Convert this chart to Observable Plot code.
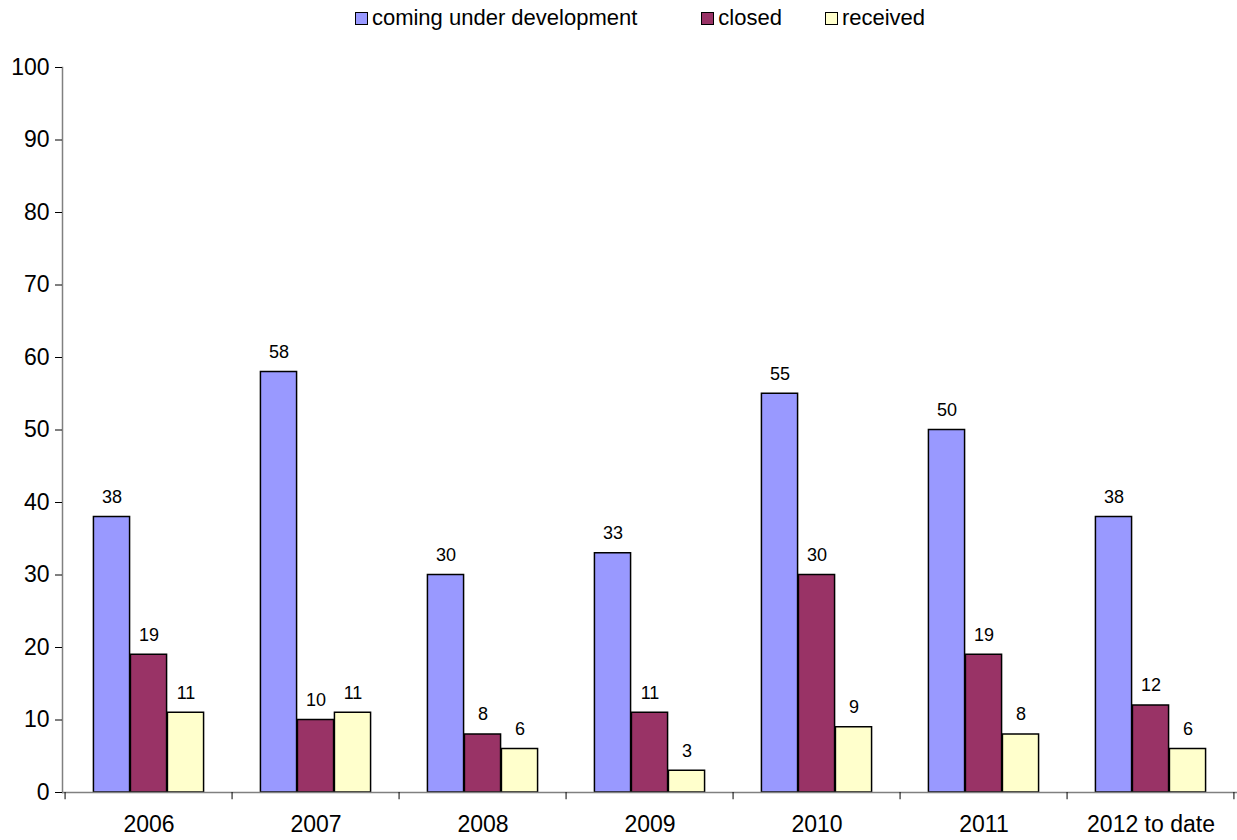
<!DOCTYPE html>
<html>
<head>
<meta charset="utf-8">
<script src="https://cdn.jsdelivr.net/npm/d3@7"></script>
<script src="https://cdn.jsdelivr.net/npm/@observablehq/plot@0.6"></script>
<style>
  html, body { margin: 0; padding: 0; background: #fff; }
  body { width: 1237px; height: 840px; overflow: hidden; font-family: "Liberation Sans", Arial, sans-serif; }
  #legend { height: 36px; display: flex; justify-content: center; align-items: center; font-size: 22px; color: #000; padding-left: 43px; box-sizing: border-box; }
  .item { display: flex; align-items: center; }
  .sw { width: 11px; height: 11px; border: 1px solid #000; margin-right: 4px; }
  #chart svg { display: block; }
</style>
</head>
<body>
<div id="legend"></div>
<div id="chart"></div>
<script>
const categories = ["2006", "2007", "2008", "2009", "2010", "2011", "2012 to date"];
const seriesNames = ["coming under development", "closed", "received"];
const seriesColors = ["#9999FF", "#993366", "#FFFFCC"];
const comingUnderDevelopment = [38, 58, 30, 33, 55, 50, 38];
const closed = [19, 10, 8, 11, 30, 19, 12];
const received = [11, 11, 6, 3, 9, 8, 6];
const yTicks = [0, 10, 20, 30, 40, 50, 60, 70, 80, 90, 100];

const seriesValues = [comingUnderDevelopment, closed, received];

// legend
const legend = document.getElementById("legend");
const legendGaps = [64, 43, 0];
seriesNames.forEach((n, i) => {
  const it = document.createElement("div");
  it.className = "item";
  it.style.marginRight = legendGaps[i] + "px";
  const sw = document.createElement("span");
  sw.className = "sw";
  sw.style.background = seriesColors[i];
  const tx = document.createElement("span");
  tx.textContent = n;
  it.appendChild(sw); it.appendChild(tx);
  legend.appendChild(it);
});

const W = 1237, H = 804;
const marginLeft = 62, marginRight = 0, marginTop = 31, marginBottom = 48;
const band = (W - marginLeft - marginRight) / categories.length;
const barW = 37;
const groupOffset = (band - 3 * barW) / 2;

const marks = [];
seriesValues.forEach((vals, i) => {
  const data = categories.map((c, k) => ({cat: c, value: vals[k]}));
  const left = groupOffset + i * barW;
  marks.push(Plot.barY(data, {
    x: "cat", y: "value",
    fill: seriesColors[i], stroke: "#000", strokeWidth: 1.5,
    insetLeft: left, insetRight: band - left - barW
  }));
  marks.push(Plot.text(data, {
    x: "cat", y: "value", text: d => String(d.value),
    dx: left + barW / 2 - band / 2, dy: -20,
    fontSize: 18, fill: "#000", lineAnchor: "middle"
  }));
});

// x axis line and boundary ticks
marks.push(Plot.ruleY([0], {stroke: "#808080", strokeWidth: 1.5}));
marks.push(Plot.ruleX(categories, {x: d => d, y1: 0, y2: -1, dx: -band / 2, stroke: "#000", strokeWidth: 1}));
marks.push(Plot.ruleX([categories[categories.length - 1]], {x: d => d, y1: 0, y2: -1, dx: band / 2 - 1, stroke: "#000", strokeWidth: 1}));
// y axis
marks.push(Plot.frame({anchor: "left", stroke: "#808080", strokeWidth: 1.5}));
marks.push(Plot.axisY({ticks: yTicks, tickSize: 7, tickPadding: 6, fontSize: 23, tickFormat: d => String(d), label: null, stroke: "#000"}));
marks.push(Plot.axisX({tickSize: 0, tickPadding: 23, fontSize: 23, label: null}));

const chart = Plot.plot({
  width: W, height: H,
  marginLeft, marginRight, marginTop, marginBottom,
  style: {fontFamily: '"Liberation Sans", Arial, sans-serif', color: "#000", background: "#fff", overflow: "visible"},
  x: {domain: categories, type: "band", padding: 0},
  y: {domain: [0, 100], type: "linear"},
  marks
});
document.getElementById("chart").appendChild(chart);
</script>
</body>
</html>
